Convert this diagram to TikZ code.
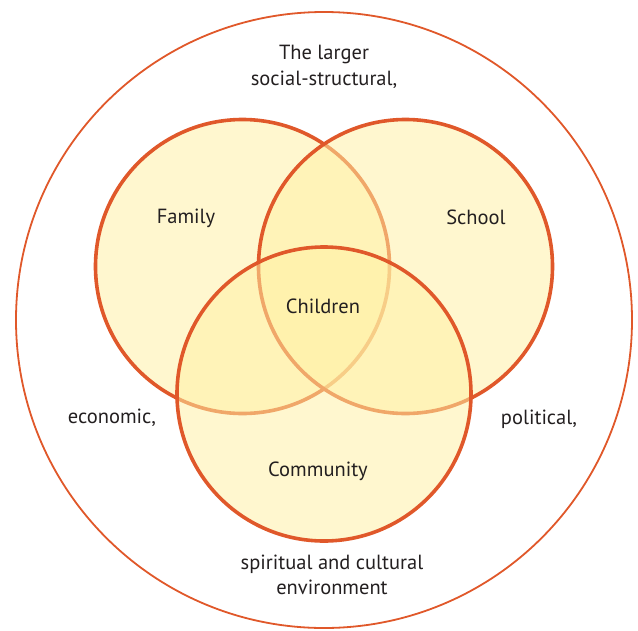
\documentclass[tikz,border=0pt]{standalone}
\usepackage{fontspec}
\setmainfont{PT Sans}
\definecolor{rim}{HTML}{E0582A}
\definecolor{fillyel}{HTML}{FFF0A3}
\definecolor{txt}{HTML}{231F20}
\begin{document}
\begin{tikzpicture}[x=1pt,y=-1pt,
  ring/.style={circle, inner sep=0pt, outer sep=0pt, minimum size=294pt, draw=rim, line width=3.6pt, fill=fillyel, fill opacity=0.52, draw opacity=1},
  lbl/.style={text=txt, font=\fontsize{20.5}{25.5}\selectfont, align=center, inner sep=0pt}]
\useasboundingbox (0,0) rectangle (638,630);
\node[circle, inner sep=0pt, minimum size=616pt, draw=rim, line width=1.8pt] (outer) at (324,320) {};
\node[ring] (family) at (242.5,266.5) {};
\node[ring] (school) at (405.5,266.5) {};
\node[ring] (community) at (324,394) {};
\node[lbl] (top) at (324,67) {The larger\\social-structural,};
\node[lbl] (tfamily) at (186,218) {Family};
\node[lbl] (tschool) at (476,217) {School};
\node[lbl] (tchildren) at (323,306) {Children};
\node[lbl] (tcommunity) at (318,471) {Community};
\node[lbl] (tecon) at (112,418) {economic,};
\node[lbl] (tpol) at (539,419) {political,};
\node[lbl] (tbottom) at (332,575) {spiritual and cultural\\environment};
\end{tikzpicture}
\end{document}
